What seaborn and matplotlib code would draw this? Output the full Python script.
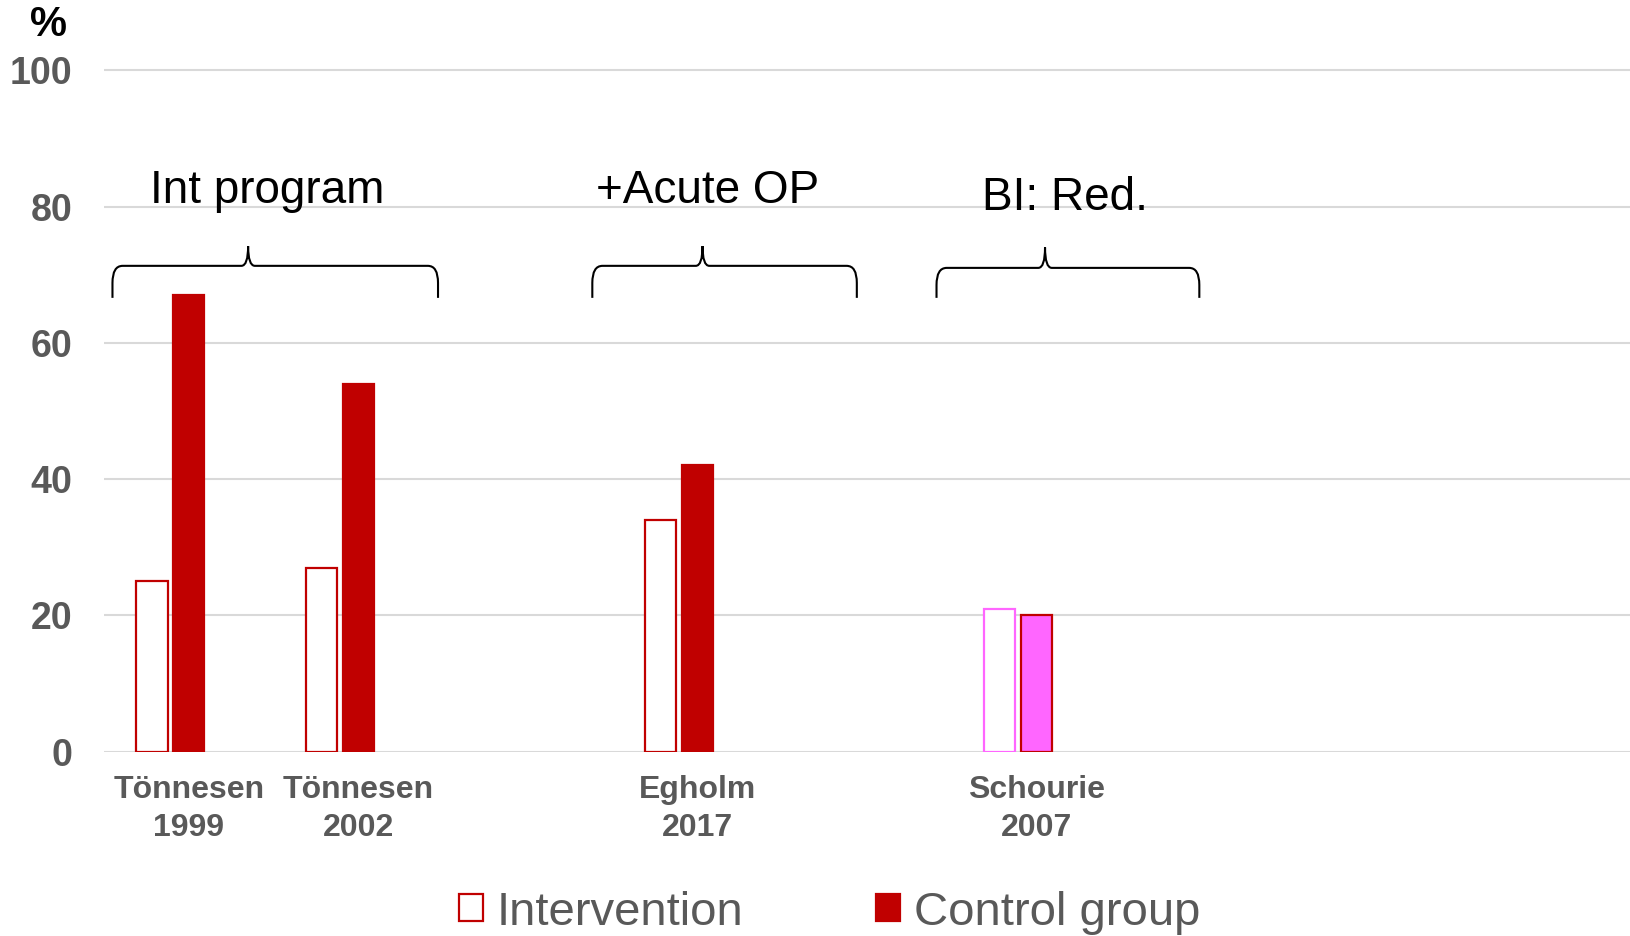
import pandas as pd
import matplotlib.pyplot as plt
import seaborn as sns
from matplotlib.path import Path
from matplotlib.patches import PathPatch
from matplotlib.patches import Patch

# slots on the x axis; empty ones keep the spacing of the original chart
slots = ["T1999", "T2002", "_a", "E2017", "_b", "S2007", "_c", "_d", "_e"]
slot_labels = ["Tönnesen\n1999", "Tönnesen\n2002", "", "Egholm\n2017", "",
               "Schourie\n2007", "", "", ""]
studies = ["T1999", "T2002", "E2017", "S2007"]
intervention = [25, 27, 34, 21]
control = [67, 54, 42, 20]
groups = ["Int program", "+Acute OP", "BI: Red."]

RED = "#C00000"
PINK = "#FF66FF"
GRAY = "#595959"

sns.set_theme(style="white")
plt.rcParams['font.family'] = ['Liberation Sans', 'DejaVu Sans']

rows = []
for s, a, b in zip(studies, intervention, control):
    rows.append({"study": s, "group": "Intervention", "pct": a})
    rows.append({"study": s, "group": "Control group", "pct": b})
df = pd.DataFrame(rows)

fig = plt.figure(figsize=(16.3, 9.36), dpi=100)
ax = fig.add_axes([0.0638, 0.197, 0.9362, 0.7308])

sns.barplot(data=df, x="study", y="pct", hue="group", order=slots,
            hue_order=["Intervention", "Control group", "_pad"],
            width=0.65, gap=0.15, ax=ax, legend=False)

# restyle the bars
for ci, cont in enumerate(ax.containers):
    for bar in cont:
        bar.set_linewidth(1.6)
        if ci == 0:
            bar.set_facecolor("white")
            bar.set_edgecolor(RED)
        else:
            bar.set_facecolor(RED)
            bar.set_edgecolor(RED)
        bar.set_zorder(3)

# Schourie bars in pink
si = slots.index("S2007")
for ci, cont in enumerate(ax.containers[:2]):
    for bar in cont:
        cx = bar.get_x() + bar.get_width() / 2
        if abs(cx - si) < 0.5:
            if ci == 0:
                bar.set_edgecolor(PINK)
            else:
                bar.set_facecolor(PINK)
                bar.set_edgecolor(RED)

ax.set_ylim(0, 100.4)
ax.set_xlim(-0.5, len(slots) - 0.5)
ax.set_yticks(range(0, 101, 20))
ax.yaxis.grid(True, color="#D9D9D9", linewidth=1.5, zorder=0)
ax.set_axisbelow(True)
for sp in ax.spines.values():
    sp.set_visible(False)
ax.set_xticks(range(len(slots)))
ax.set_xticklabels(slot_labels)
ax.tick_params(axis="x", length=0, pad=17)
ax.tick_params(axis="y", length=0, pad=23)
for lab in ax.get_xticklabels():
    lab.set_fontsize(23)
    lab.set_fontweight("bold")
    lab.set_color(GRAY)
    lab.set_linespacing(1.35)
for lab in ax.get_yticklabels():
    lab.set_fontsize(27)
    lab.set_fontweight("bold")
    lab.set_color(GRAY)
ax.set_xlabel("")
ax.set_ylabel("")


def brace(x0, x1, xm, y, ylow, ytip):
    rx = 0.06
    verts = [(x0, ylow), (x0, y - 2.5), (x0, y), (x0 + rx, y),
             (xm - 0.04, y), (xm, y), (xm, ytip),
             (xm, y), (xm + 0.04, y), (x1 - rx, y),
             (x1, y), (x1, y - 2.5), (x1, ylow)]
    codes = [Path.MOVETO, Path.LINETO, Path.CURVE3, Path.CURVE3,
             Path.LINETO, Path.CURVE3, Path.CURVE3,
             Path.CURVE3, Path.CURVE3, Path.LINETO,
             Path.CURVE3, Path.CURVE3, Path.LINETO]
    ax.add_patch(PathPatch(Path(verts, codes), fill=False, edgecolor="black",
                           linewidth=1.5, clip_on=False, zorder=4))


brace(-0.45, 1.47, 0.35, 71.3, 66.6, 74.2)
brace(2.38, 3.94, 3.03, 71.3, 66.6, 74.2)
brace(4.41, 5.96, 5.05, 71.0, 66.6, 74.0)

ax.text(0.46, 82.3, groups[0], ha="center", va="center", fontsize=33, color="black")
ax.text(3.06, 82.3, groups[1], ha="center", va="center", fontsize=33, color="black")
ax.text(5.17, 81.3, groups[2], ha="center", va="center", fontsize=33, color="black")

fig.text(0.030, 0.973, "%", ha="center", va="center", fontsize=30,
         fontweight="bold", color="black")

handles = [Patch(facecolor="white", edgecolor=RED, linewidth=1.6, label="Intervention"),
           Patch(facecolor=RED, edgecolor=RED, linewidth=1.6, label="Control group")]
leg = fig.legend(handles=handles, loc="center", bbox_to_anchor=(0.509, 0.025),
                 ncol=2, frameon=False, fontsize=34, handlelength=0.5,
                 handleheight=0.5, handletextpad=0.3, columnspacing=2.8)
for t in leg.get_texts():
    t.set_color(GRAY)

fig.savefig("out.png", dpi=100)
